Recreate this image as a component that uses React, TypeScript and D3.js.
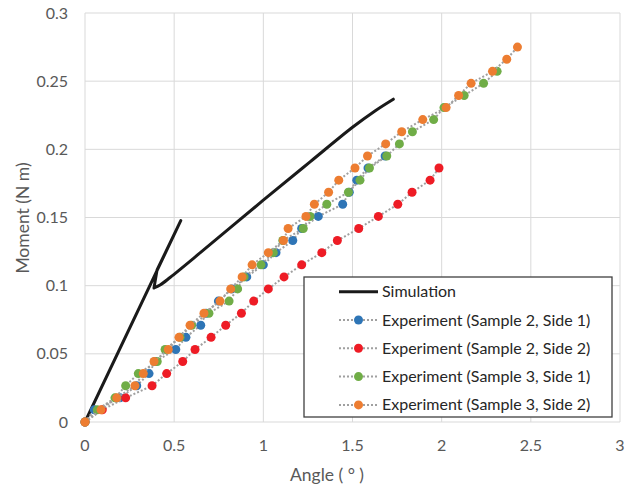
import React from 'react';
import * as d3 from 'd3';

const xTicks = [0, 0.5, 1, 1.5, 2, 2.5, 3];
const yTicks = [0, 0.05, 0.1, 0.15, 0.2, 0.25, 0.3];

// Simulation: loading branch, return with hook, then second loading branch
const simAngle = [0, 0.537, 0.404, 0.392, 0.387, 0.421, 0.477, 0.645, 0.998, 1.262, 1.5, 1.626, 1.729];
const simMoment = [0, 0.1477, 0.1115, 0.1024, 0.0983, 0.1005, 0.106, 0.124, 0.1625, 0.1908, 0.2162, 0.2282, 0.2368];
const simCuspIndex = 4;

const momentLevels = [
  0, 0.0089, 0.0177, 0.0266, 0.0355, 0.0444, 0.0532, 0.0621, 0.071, 0.0798,
  0.0887, 0.0976, 0.1064, 0.1153, 0.1242, 0.1331, 0.1419, 0.1508, 0.1597, 0.1685,
  0.1774, 0.1863, 0.1951, 0.204, 0.2129, 0.2218, 0.2306, 0.2395, 0.2484, 0.2572,
  0.2661, 0.275,
];

const s2side1Angle = [0, 0.052, 0.196, 0.29, 0.359, 0.393, 0.509, 0.566, 0.649, 0.679, 0.748, 0.824, 0.907, 1.0, 1.071, 1.165, 1.215, 1.308, 1.445, 1.482, 1.524, 1.587, 1.683];
const s2side2Angle = [0, 0.097, 0.228, 0.376, 0.458, 0.548, 0.617, 0.707, 0.789, 0.877, 0.946, 1.028, 1.116, 1.215, 1.328, 1.415, 1.535, 1.645, 1.754, 1.834, 1.935, 1.985];
const s3side1Angle = [0, 0.069, 0.168, 0.228, 0.299, 0.405, 0.449, 0.533, 0.598, 0.695, 0.808, 0.856, 0.892, 0.987, 1.056, 1.109, 1.224, 1.262, 1.356, 1.477, 1.542, 1.595, 1.692, 1.763, 1.836, 1.955, 2.013, 2.126, 2.235, 2.311];
const s3side2Angle = [0, 0.09, 0.178, 0.28, 0.327, 0.387, 0.467, 0.527, 0.589, 0.667, 0.757, 0.817, 0.881, 0.937, 1.028, 1.113, 1.139, 1.239, 1.286, 1.366, 1.423, 1.514, 1.584, 1.686, 1.776, 1.894, 2.025, 2.095, 2.165, 2.285, 2.365, 2.425];

const expNames = [
  'Experiment (Sample 2, Side 1)',
  'Experiment (Sample 2, Side 2)',
  'Experiment (Sample 3, Side 1)',
  'Experiment (Sample 3, Side 2)',
];
const expColors = ['#2e75b6', '#ee1c25', '#70ad47', '#ed7d31'];
const expAngles = [s2side1Angle, s2side2Angle, s3side1Angle, s3side2Angle];

const FONT = 'Lato, "Liberation Sans", sans-serif';

export default function App() {
  const x = d3.scaleLinear().domain([0, 3]).range([85, 620]);
  const y = d3.scaleLinear().domain([0, 0.3]).range([422, 13]);
  const line = d3.line<[number, number]>().x(d => x(d[0])).y(d => y(d[1]));
  const smooth = d3.line<[number, number]>().x(d => x(d[0])).y(d => y(d[1])).curve(d3.curveCatmullRom.alpha(0.5));
  const simPts: [number, number][] = simAngle.map((a, i) => [a, simMoment[i]]);
  const simA = simPts.slice(0, simCuspIndex + 1);
  const simB = simPts.slice(simCuspIndex);
  const series = expAngles.map((arr, si) => ({
    name: expNames[si],
    color: expColors[si],
    pts: arr.map((a, i) => [a, momentLevels[i]] as [number, number]),
  }));

  const legX = 304, legY = 277, legW = 308, legH = 140;
  const rowY = (i: number) => 291.7 + i * 28.3;

  return (
    <svg width={632} height={491} style={{ position: 'absolute', left: 0, top: 0, background: '#fff' }} fontFamily={FONT}>
      <rect x={0} y={0} width={632} height={491} fill="#fff" />
      {xTicks.map(t => (
        <line key={'gx' + t} x1={x(t)} x2={x(t)} y1={y(0.3)} y2={y(0)} stroke="#d9d9d9" strokeWidth={1} />
      ))}
      {yTicks.map(t => (
        <line key={'gy' + t} x1={x(0)} x2={x(3)} y1={y(t)} y2={y(t)} stroke="#d9d9d9" strokeWidth={1} />
      ))}
      {xTicks.map(t => (
        <text key={'tx' + t} x={x(t)} y={451} textAnchor="middle" fontSize={16} fill="#595959">{String(t)}</text>
      ))}
      {yTicks.map(t => (
        <text key={'ty' + t} x={68} y={y(t) + 5.5} textAnchor="end" fontSize={16} fill="#595959">{String(t)}</text>
      ))}
      <text x={327} y={481} textAnchor="middle" fontSize={17.5} fill="#595959">Angle ( ° )</text>
      <text transform={`translate(29,218) rotate(-90)`} textAnchor="middle" fontSize={17.5} fill="#595959">Moment (N m)</text>

      <path d={(line(simA) || '') + (smooth(simB) || '')} fill="none" stroke="#1a1a1a" strokeWidth={3} strokeLinejoin="round" strokeLinecap="round" />
      {series.map(s => (
        <g key={s.name}>
          <path d={line(s.pts) || ''} fill="none" stroke="#a0a0a0" strokeWidth={2} strokeDasharray="2 2" />
          {s.pts.map((p, i) => (
            <circle key={i} cx={x(p[0])} cy={y(p[1])} r={4.5} fill={s.color} />
          ))}
        </g>
      ))}

      <rect x={legX} y={legY} width={legW} height={legH} fill="#fff" stroke="#404040" strokeWidth={1.3} />
      <line x1={339} x2={378} y1={rowY(0)} y2={rowY(0)} stroke="#1a1a1a" strokeWidth={3} />
      <text x={382} y={rowY(0) + 5.5} fontSize={16} fill="#262626">Simulation</text>
      {series.map((s, i) => (
        <g key={'lg' + i}>
          <line x1={339} x2={378} y1={rowY(i + 1)} y2={rowY(i + 1)} stroke="#a0a0a0" strokeWidth={2} strokeDasharray="2 2" />
          <circle cx={358.5} cy={rowY(i + 1)} r={4.5} fill={s.color} />
          <text x={382} y={rowY(i + 1) + 5.5} fontSize={16} fill="#262626">{s.name}</text>
        </g>
      ))}
    </svg>
  );
}
